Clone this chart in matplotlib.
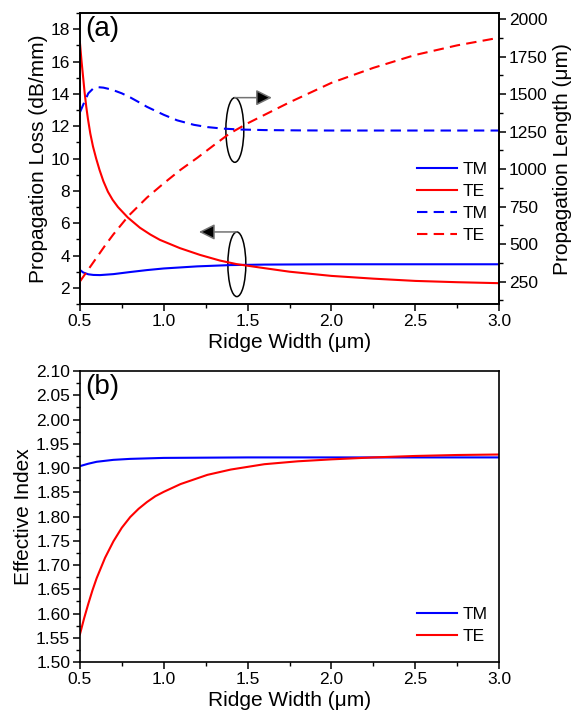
import matplotlib
matplotlib.use("Agg")
import matplotlib.pyplot as plt
from matplotlib.patches import Ellipse
from matplotlib.ticker import MultipleLocator, FormatStrFormatter

plt.rcParams['font.family'] = ['Liberation Sans', 'DejaVu Sans']

# (a) propagation loss, left axis (dB/mm)
x_te_loss = [0.5, 0.51, 0.52, 0.528, 0.538, 0.548, 0.562, 0.578, 0.597, 0.617, 0.64, 0.667, 0.695,
             0.727, 0.786, 0.858, 0.92, 0.977, 1.096, 1.216, 1.335, 1.434, 1.573, 1.75, 2.0,
             2.25, 2.5, 2.75, 3.0]
te_loss = [17.2, 16.0, 14.95, 14.1, 13.2, 12.45, 11.55, 10.75, 10.0, 9.3, 8.6, 7.95, 7.45,
           7.0, 6.35, 5.72, 5.3, 4.97, 4.46, 4.04, 3.69, 3.47, 3.26, 3.0, 2.74,
           2.57, 2.43, 2.35, 2.29]
x_tm_loss = [0.5, 0.52, 0.55, 0.58, 0.62, 0.7, 0.8, 0.9, 1.0, 1.2, 1.4, 1.6, 2.0, 2.5, 3.0]
tm_loss = [3.11, 2.95, 2.84, 2.8, 2.79, 2.85, 2.98, 3.1, 3.2, 3.33, 3.41, 3.44, 3.46, 3.46, 3.46]

# (a) propagation length, right axis (um)
x_tm_len = [0.5, 0.52, 0.55, 0.58, 0.61, 0.64, 0.69, 0.75, 0.8, 0.85, 0.9, 1.0, 1.08, 1.18,
            1.26, 1.35, 1.45, 1.6, 1.8, 2.0, 3.0]
tm_len = [1378, 1430, 1505, 1538, 1546, 1543, 1530, 1505, 1478, 1447, 1415, 1362, 1325, 1295,
          1280, 1270, 1264, 1260, 1258, 1257, 1257]
x_te_len = [0.5, 0.55, 0.6, 0.65, 0.7, 0.79, 0.9, 1.0, 1.1, 1.2, 1.3, 1.39, 1.5, 1.75, 2.0,
            2.25, 2.5, 2.75, 3.0]
te_len = [250, 330, 410, 490, 565, 688, 810, 905, 995, 1075, 1160, 1235, 1305, 1445, 1575,
          1675, 1761, 1825, 1876]

# (b) effective index
x_te_n = [0.5, 0.525, 0.55, 0.575, 0.6, 0.65, 0.7, 0.75, 0.8, 0.85, 0.9, 0.95, 1.0, 1.1,
          1.26, 1.4, 1.6, 1.8, 2.0, 2.25, 2.5, 2.75, 3.0]
te_n = [1.557, 1.59, 1.62, 1.648, 1.673, 1.715, 1.749, 1.777, 1.799, 1.816, 1.83, 1.842,
        1.851, 1.867, 1.886, 1.897, 1.908, 1.914, 1.918, 1.922, 1.925, 1.927, 1.928]
x_tm_n = [0.5, 0.55, 0.6, 0.7, 0.8, 1.0, 1.5, 2.0, 3.0]
tm_n = [1.904, 1.909, 1.913, 1.917, 1.919, 1.921, 1.922, 1.922, 1.922]

LW = 1.5
DASH = (5, 3)
FS_TICK = 12.5
FS_LAB = 15

fig = plt.figure(figsize=(5.79, 7.13), dpi=100)
ax1 = fig.add_axes([0.138, 0.5736, 0.724, 0.408])
ax2 = ax1.twinx()
ax3 = fig.add_axes([0.138, 0.0715, 0.724, 0.408])

l1, = ax1.plot(x_tm_loss, tm_loss, color='blue', lw=LW, label='TM')
l2, = ax1.plot(x_te_loss, te_loss, color='red', lw=LW, label='TE')
l3, = ax2.plot(x_tm_len, tm_len, color='blue', lw=LW, dashes=DASH, label='TM')
l4, = ax2.plot(x_te_len, te_len, color='red', lw=LW, dashes=DASH, label='TE')

ax1.set_xlim(0.5, 3.0)
ax1.set_ylim(1, 19)
ax2.set_ylim(100, 2040)
ax1.yaxis.set_major_locator(MultipleLocator(2))
ax1.yaxis.set_minor_locator(MultipleLocator(1))
ax2.yaxis.set_major_locator(MultipleLocator(250))
ax2.yaxis.set_minor_locator(MultipleLocator(125))

ax1.set_ylabel('Propagation Loss (dB/mm)', fontsize=FS_LAB, labelpad=2)
ax2.set_ylabel('Propagation Length (μm)', fontsize=FS_LAB, labelpad=4)
ax1.set_xlabel('Ridge Width (μm)', fontsize=FS_LAB, labelpad=3)
ax1.text(0.012, 0.99, '(a)', transform=ax1.transAxes, fontsize=20, va='top', ha='left')

# ellipses with arrows pointing to their axis
arrow = dict(arrowstyle='-|>,head_length=0.6,head_width=0.3', mutation_scale=16, lw=1.1,
             edgecolor='0.45', facecolor='black', shrinkA=0, shrinkB=0)
ax1.add_patch(Ellipse((1.424, 11.77), 0.107, 4.0, fill=False, lw=1.1, color='black'))
ax1.annotate('', xy=(1.645, 13.77), xytext=(1.424, 13.77), arrowprops=arrow)
ax1.add_patch(Ellipse((1.436, 3.46), 0.107, 4.0, fill=False, lw=1.1, color='black'))
ax1.annotate('', xy=(1.21, 5.46), xytext=(1.436, 5.46), arrowprops=arrow)

ax1.legend(handles=[l1, l2, l3, l4], loc='upper left', bbox_to_anchor=(0.805, 0.49),
           frameon=False, fontsize=FS_TICK, handlelength=2.3, handletextpad=0.3,
           labelspacing=0.4, borderpad=0, borderaxespad=0)

ax3.plot(x_tm_n, tm_n, color='blue', lw=LW, label='TM')
ax3.plot(x_te_n, te_n, color='red', lw=LW, label='TE')
ax3.set_xlim(0.5, 3.0)
ax3.set_ylim(1.5, 2.1)
ax3.yaxis.set_major_locator(MultipleLocator(0.05))
ax3.yaxis.set_minor_locator(MultipleLocator(0.025))
ax3.yaxis.set_major_formatter(FormatStrFormatter('%.2f'))
ax3.set_ylabel('Effective Index', fontsize=FS_LAB, labelpad=2)
ax3.set_xlabel('Ridge Width (μm)', fontsize=FS_LAB, labelpad=3)
ax3.text(0.012, 0.99, '(b)', transform=ax3.transAxes, fontsize=20, va='top', ha='left')
ax3.legend(loc='upper left', bbox_to_anchor=(0.805, 0.19), frameon=False, fontsize=FS_TICK,
           handlelength=2.3, handletextpad=0.3, labelspacing=0.4, borderpad=0, borderaxespad=0)

for ax in (ax1, ax3):
    ax.xaxis.set_major_locator(MultipleLocator(0.5))
    ax.xaxis.set_minor_locator(MultipleLocator(0.25))
    ax.xaxis.set_major_formatter(FormatStrFormatter('%.1f'))
    ax.tick_params(axis='both', which='major', direction='out', length=5, width=1.1,
                   labelsize=FS_TICK, pad=2, top=False, right=False)
    ax.tick_params(axis='both', which='minor', direction='out', length=3, width=1.0,
                   top=False, right=False)
ax2.tick_params(axis='y', which='major', direction='out', length=5, width=1.1,
                labelsize=FS_TICK, pad=2)
ax2.tick_params(axis='y', which='minor', direction='out', length=3, width=1.0)
for ax in (ax1, ax2, ax3):
    for sp in ax.spines.values():
        sp.set_linewidth(1.2)

fig.savefig('out.png', dpi=100)
